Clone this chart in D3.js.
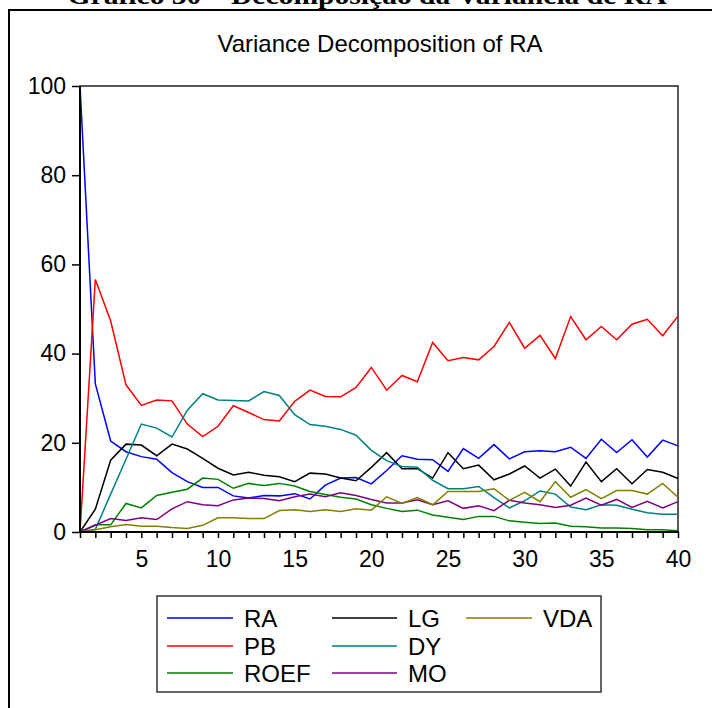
<!DOCTYPE html>
<html>
<head>
<meta charset="utf-8">
<script src="https://cdn.jsdelivr.net/npm/d3@7"></script>
<style>
  html, body { margin: 0; padding: 0; background: #fff; }
  svg { display: block; }
</style>
</head>
<body>
<svg id="chart" width="712" height="708"></svg>
<script>
const periods = [1,2,3,4,5,6,7,8,9,10,11,12,13,14,15,16,17,18,19,20,21,22,23,24,25,26,27,28,29,30,31,32,33,34,35,36,37,38,39,40];
const xTickLabels = [5,10,15,20,25,30,35,40];
const yTickValues = [0,20,40,60,80,100];

const RA   = [100,33.2,20.4,18.0,16.9,16.3,13.3,11.3,10.0,10.0,8.1,7.6,8.2,8.1,8.6,7.4,10.5,12.1,12.2,10.8,13.8,17.1,16.3,16.2,13.6,18.7,16.5,19.6,16.4,18.0,18.2,18.0,19.0,16.5,20.8,17.8,20.7,16.8,20.6,19.3];
const PB   = [0,56.6,47.3,33.0,28.4,29.6,29.4,24.2,21.4,23.7,28.3,26.8,25.2,24.9,29.3,31.8,30.4,30.3,32.4,36.9,31.8,35.1,33.7,42.5,38.4,39.1,38.6,41.6,47.0,41.2,44.1,38.9,48.3,43.1,46.1,43.1,46.6,47.7,44.0,48.4];
const LG   = [0,5.1,16.1,19.7,19.5,17.1,19.7,18.6,16.5,14.3,12.8,13.4,12.7,12.4,11.3,13.2,13.0,12.1,11.5,14.5,17.8,14.2,14.2,12.1,17.8,14.2,15.0,11.7,13.0,14.8,12.1,14.1,10.3,15.7,11.3,14.2,10.8,14.0,13.4,12.0];
const VDA  = [0,0.5,1.2,1.7,1.3,1.3,1.0,0.8,1.5,3.2,3.2,3.0,3.0,4.8,5.0,4.6,5.0,4.6,5.2,4.9,7.9,6.4,7.7,6.1,9.1,9.1,9.1,9.7,7.1,8.9,6.8,11.3,7.8,9.5,7.5,9.3,9.3,8.5,10.9,7.8];
const DY   = [0,0.6,8.5,16.3,24.2,23.3,21.3,27.3,31.0,29.6,29.5,29.4,31.5,30.6,26.3,24.1,23.7,23.0,21.7,18.3,16.0,14.7,14.5,11.6,9.7,9.7,10.2,7.7,5.4,7.0,9.2,8.5,5.6,5.0,6.1,6.0,5.1,4.3,4.0,4.0];
const ROEF = [0,1.6,1.6,6.4,5.4,8.2,8.9,9.6,12.1,11.8,9.8,10.9,10.4,10.9,10.3,9.1,8.4,7.8,7.4,6.1,5.3,4.6,4.9,3.8,3.3,2.8,3.5,3.5,2.5,2.2,1.9,2.0,1.3,1.2,0.9,0.9,0.8,0.5,0.5,0.3];
const MO   = [0,1.5,3.0,2.6,3.2,2.8,5.2,6.8,6.1,5.9,7.2,7.6,7.5,7.0,7.9,8.5,7.9,8.8,8.2,7.3,6.5,6.5,7.2,6.1,7.0,5.3,5.9,4.8,7.1,6.5,6.1,5.5,6.0,7.6,6.0,7.3,5.5,6.9,5.4,6.8];

const seriesNames  = ["RA","PB","ROEF","LG","DY","MO","VDA"];
const seriesData   = {RA, PB, ROEF, LG, DY, MO, VDA};
const seriesColors = {RA:"#0000ff", PB:"#ff0000", ROEF:"#008000", LG:"#000000", DY:"#008080", MO:"#800080", VDA:"#808000"};
const drawOrder = ["RA","PB","LG","DY","ROEF","MO","VDA"];

const svg = d3.select("#chart");
const font = "'Liberation Sans', Arial, Helvetica, sans-serif";

svg.append("rect").attr("width",712).attr("height",708).attr("fill","#fff");

// outer frame (partially visible)
svg.append("path").attr("d","M9,712 V10 H716").attr("fill","none").attr("stroke","#000").attr("stroke-width",2);

// cut-off document caption
svg.append("text")
  .attr("x",367).attr("y",4)
  .attr("text-anchor","middle")
  .attr("font-family","'Liberation Serif','Times New Roman',serif")
  .attr("font-weight","bold").attr("font-size",26)
  .attr("textLength",599).attr("lengthAdjust","spacingAndGlyphs")
  .text("Gráfico 30 – Decomposição da Variância de RA");

// chart title
svg.append("text")
  .attr("x",380).attr("y",52)
  .attr("text-anchor","middle")
  .attr("font-family",font).attr("font-size",24)
  .attr("fill","#000")
  .text("Variance Decomposition of RA");

const x = d3.scaleLinear().domain([1,40]).range([80,678]);
const y = d3.scaleLinear().domain([0,100]).range([532,86]);

// plot frame (top/right)
svg.append("rect").attr("x",80).attr("y",86).attr("width",598).attr("height",446)
  .attr("fill","none").attr("stroke","#222").attr("stroke-width",1.5);

// series lines
const line = d3.line().x((d,i)=>x(periods[i])).y(d=>y(d));
drawOrder.forEach(name=>{
  svg.append("path")
    .datum(seriesData[name])
    .attr("d", line)
    .attr("fill","none")
    .attr("stroke", seriesColors[name])
    .attr("stroke-width",1.5)
    .attr("stroke-linejoin","miter");
});

// left axis
const yAxis = d3.axisLeft(y).tickValues(yTickValues).tickSize(8).tickPadding(6).tickFormat(d3.format("d"));
const gy = svg.append("g").attr("transform","translate(80,0)").call(yAxis);
gy.select(".domain").remove();
gy.selectAll(".tick line").attr("stroke","#000").attr("stroke-width",1.5);
gy.selectAll(".tick text").attr("font-family",font).attr("font-size",23).attr("fill","#000");
svg.append("line").attr("x1",80).attr("x2",80).attr("y1",86).attr("y2",533).attr("stroke","#000").attr("stroke-width",2);

// bottom axis
const xAxis = d3.axisBottom(x).tickValues(periods).tickSize(6).tickPadding(12.5)
  .tickFormat(d => xTickLabels.includes(d) ? String(d) : "");
const gx = svg.append("g").attr("transform","translate(0,532)").call(xAxis);
gx.select(".domain").remove();
gx.selectAll(".tick line").attr("stroke","#000").attr("stroke-width",1.5);
gx.selectAll(".tick text").attr("font-family",font).attr("font-size",23).attr("fill","#000");
svg.append("line").attr("x1",79).attr("x2",679).attr("y1",532).attr("y2",532).attr("stroke","#000").attr("stroke-width",2);

// legend
const legend = svg.append("g");
legend.append("rect").attr("x",157).attr("y",596).attr("width",444).attr("height",96)
  .attr("fill","#fff").attr("stroke","#333").attr("stroke-width",1.5);
const legendCols = [
  {x1:167, x2:233, tx:244, names:["RA","PB","ROEF"]},
  {x1:332, x2:397, tx:408, names:["LG","DY","MO"]},
  {x1:466, x2:532, tx:543, names:["VDA"]}
];
const rowY = [618,646,673];
legendCols.forEach(col=>{
  col.names.forEach((n,i)=>{
    legend.append("line").attr("x1",col.x1).attr("x2",col.x2).attr("y1",rowY[i]).attr("y2",rowY[i])
      .attr("stroke",seriesColors[n]).attr("stroke-width",1.5);
    legend.append("text").attr("x",col.tx).attr("y",rowY[i]+9)
      .attr("font-family",font).attr("font-size",24).attr("fill","#000").text(n);
  });
});
</script>
</body>
</html>
